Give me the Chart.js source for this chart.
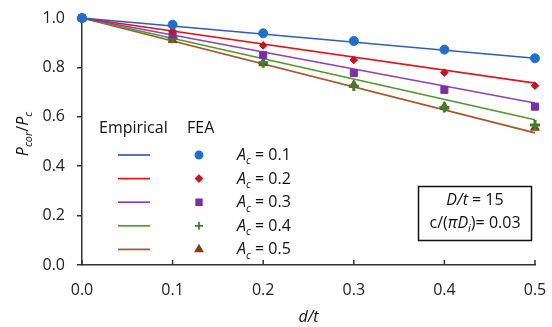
<!DOCTYPE html>
<html>
<head>
<meta charset="utf-8">
<script src="https://cdn.jsdelivr.net/npm/chart.js@4/dist/chart.umd.min.js"></script>
<style>
  html, body { margin: 0; padding: 0; background: #fff; }
  #wrap { width: 552px; height: 327px; }
</style>
</head>
<body>
<div id="wrap"><canvas id="chart" width="552" height="327"></canvas></div>
<script>
// d/t values where FEA was run
const dt = [0, 0.1, 0.2, 0.3, 0.4, 0.5];
const acLabels = ['0.1', '0.2', '0.3', '0.4', '0.5'];

// FEA results, one row per A_c
const feaAc1 = [1.0, 0.973, 0.938, 0.907, 0.872, 0.837];
const feaAc2 = [1.0, 0.947, 0.889, 0.830, 0.779, 0.726];
const feaAc3 = [1.0, 0.934, 0.850, 0.777, 0.709, 0.641];
const feaAc4 = [1.0, 0.918, 0.819, 0.725, 0.638, 0.567];
const feaAc5 = [1.0, 0.911, 0.817, 0.729, 0.641, 0.556];

// empirical fit (straight line) end points at d/t = 0 and 0.5
const empX = [0, 0.5];
const empAc1 = [1.0, 0.837];
const empAc2 = [1.0, 0.736];
const empAc3 = [1.0, 0.656];
const empAc4 = [1.0, 0.588];
const empAc5 = [1.0, 0.535];

const yTicks = [0, 0.2, 0.4, 0.6, 0.8, 1.0];

const lineColors = ['#2f5fb3', '#e0161c', '#9040b8', '#4f9a2c', '#a8552a'];
const markColors = ['#1f6fd1', '#c8141a', '#7a2fa3', '#3f7f26', '#8c3b10'];
const markStyles = ['circle', 'rectRot', 'rect', 'cross', 'triangle'];
const markSizes = [4.5, 3.8, 5, 5, 5];
const keySizes = [3.6, 3.2, 4, 4, 4];

const FONT = '"Open Sans", sans-serif';

const emp = [empAc1, empAc2, empAc3, empAc4, empAc5];
const fea = [feaAc1, feaAc2, feaAc3, feaAc4, feaAc5];

let datasets = [];
emp.forEach((vals, i) => {
    datasets.push({
        data: vals.map((v, k) => ({x: empX[k], y: v})),
        showLine: true,
        borderColor: lineColors[i],
        borderWidth: 1.7,
        pointRadius: 0,
        clip: false,
        order: 2
    });
});
fea.forEach((vals, i) => {
    datasets.push({
        data: vals.map((v, k) => ({x: dt[k], y: v})),
        showLine: false,
        pointStyle: markStyles[i],
        pointRadius: markSizes[i],
        backgroundColor: markColors[i],
        borderColor: markColors[i],
        borderWidth: markStyles[i] === 'cross' ? 3 : 1,
        clip: false,
        order: 1
    });
});

// draw a run of text pieces: {t, it, sub}
function drawRich(ctx, parts, x, y, size, align) {
    const fontOf = p => (p.it ? 'italic ' : '') + (p.sub ? size * 0.68 : size) + 'px ' + FONT;
    const widths = parts.map(p => {
        ctx.font = fontOf(p);
        return ctx.measureText(p.t).width;
    });
    const total = widths.reduce((a, b) => a + b, 0);
    let cx = align === 'center' ? x - total / 2 : x;
    ctx.textBaseline = 'alphabetic';
    ctx.textAlign = 'left';
    parts.forEach((p, i) => {
        ctx.font = fontOf(p);
        ctx.fillText(p.t, cx, y + (p.sub ? size * 0.28 : 0));
        cx += widths[i];
    });
}

const decorations = {
    id: 'decorations',
    afterDraw(chart) {
        const ctx = chart.ctx;
        const xs = chart.scales.x;
        const ys = chart.scales.y;
        ctx.save();

        // x ticks pointing into the plot
        ctx.strokeStyle = '#333';
        ctx.lineWidth = 1.5;
        dt.forEach(v => {
            const px = xs.getPixelForValue(v);
            ctx.beginPath();
            ctx.moveTo(px, ys.bottom);
            ctx.lineTo(px, ys.bottom - 5);
            ctx.stroke();
        });

        ctx.fillStyle = '#111';
        // x title
        drawRich(ctx, [{t: 'd/t', it: true}], (xs.left + xs.right) / 2, 322, 16, 'center');

        // y title, rotated
        ctx.save();
        ctx.translate(28, 134);
        ctx.rotate(-Math.PI / 2);
        drawRich(ctx, [
            {t: 'P', it: true}, {t: 'cor', it: true, sub: true},
            {t: '/'}, {t: 'P', it: true}, {t: 'c', it: true, sub: true}
        ], 0, 0, 16, 'center');
        ctx.restore();

        // legend
        ctx.font = '16px ' + FONT;
        ctx.textBaseline = 'middle';
        ctx.fillText('Empirical', 99, 128);
        ctx.fillText('FEA', 187, 128);
        acLabels.forEach((lab, i) => {
            const ly = 155 + i * 23.6;
            ctx.strokeStyle = lineColors[i];
            ctx.lineWidth = 1.7;
            ctx.beginPath();
            ctx.moveTo(118, ly);
            ctx.lineTo(150, ly);
            ctx.stroke();
            ctx.fillStyle = markColors[i];
            ctx.strokeStyle = markColors[i];
            Chart.helpers.drawPoint(ctx, {
                pointStyle: markStyles[i],
                radius: keySizes[i],
                borderWidth: markStyles[i] === 'cross' ? 2.5 : 1
            }, 199, ly);
            ctx.fillStyle = '#111';
            drawRich(ctx, [
                {t: 'A', it: true}, {t: 'c', it: true, sub: true}, {t: ' = ' + lab}
            ], 237, ly + 5, 16, 'left');
        });

        // parameter box
        ctx.strokeStyle = '#111';
        ctx.lineWidth = 1.5;
        ctx.strokeRect(418.5, 186.5, 113, 54);
        drawRich(ctx, [{t: 'D/t', it: true}, {t: ' = 15'}], 475, 205, 16, 'center');
        drawRich(ctx, [
            {t: 'c/('}, {t: '\u03c0D', it: true}, {t: 'i', it: true, sub: true}, {t: ')= 0.03'}
        ], 475, 228, 16, 'center');

        ctx.restore();
    }
};

new Chart(document.getElementById('chart'), {
    type: 'scatter',
    data: {datasets: datasets},
    options: {
        responsive: false,
        animation: false,
        layout: {padding: {left: 0, top: 18, right: 17, bottom: 0}},
        plugins: {legend: {display: false}, tooltip: {enabled: false}},
        scales: {
            x: {
                type: 'linear',
                min: 0, max: 0.5,
                afterFit: s => { s.height = 62; s.paddingLeft = 0; s.paddingRight = 0; },
                afterBuildTicks: s => { s.ticks = dt.map(v => ({value: v})); },
                grid: {display: false, drawTicks: false},
                border: {display: true, color: '#333', width: 1.5},
                ticks: {
                    padding: 16,
                    color: '#222',
                    font: {family: FONT, size: 16},
                    callback: v => v.toFixed(1)
                }
            },
            y: {
                min: 0, max: 1,
                afterFit: s => { s.width = 82; s.paddingTop = 0; s.paddingBottom = 0; },
                afterBuildTicks: s => { s.ticks = yTicks.map(v => ({value: v})); },
                grid: {display: true, drawOnChartArea: false, drawTicks: true, tickLength: 5, color: '#333', lineWidth: 1.5},
                border: {display: true, color: '#333', width: 1.5},
                ticks: {
                    padding: 12,
                    color: '#222',
                    font: {family: FONT, size: 16},
                    callback: v => v.toFixed(1)
                }
            }
        }
    },
    plugins: [decorations]
});
</script>
</body>
</html>
